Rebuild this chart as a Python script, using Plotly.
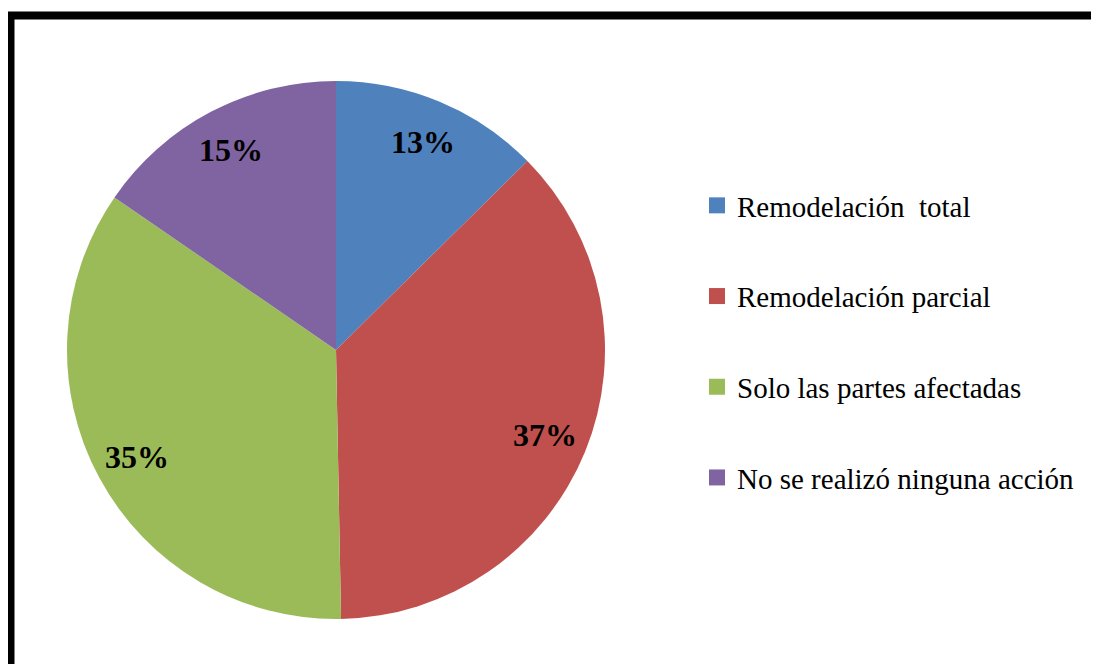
import math
import plotly.graph_objects as go

labels = ['Remodelación  total', 'Remodelación parcial',
          'Solo las partes afectadas', 'No se realizó ninguna acción']
values = [12.6, 37.1, 34.9, 15.4]
colors = ['#4F81BD', '#C0504D', '#9BBB59', '#8064A2']

# the page body keeps its 8px margin, so the figure is drawn 8px in
OFF = 8
W, H = 1099 - OFF, 664 - OFF
CX, CY, R = 336 - OFF, 350 - OFF, 269  # pie centre and radius in px


def px_x(x):
    return x / W


def px_y(y):
    return 1 - y / H


fig = go.Figure()

fig.add_trace(go.Pie(labels=labels,
                     values=values,
                     sort=False,
                     direction='clockwise',
                     rotation=0,
                     marker=dict(colors=colors, line=dict(width=0)),
                     textinfo='none',
                     hoverinfo='label+percent',
                     showlegend=False,
                     domain=dict(x=[px_x(CX - R), px_x(CX + R)],
                                 y=[px_y(CY + R), px_y(CY - R)])
                     ))

# legend entries as separate groups so they can be spaced out
for i, (name, color) in enumerate(zip(labels, colors)):
    fig.add_trace(go.Scatter(x=[None], y=[None],
                             mode='markers',
                             name=name,
                             legendgroup=str(i),
                             marker=dict(symbol='square', size=16, color=color),
                             hoverinfo='skip'))

# percentage labels placed near the outer edge along each slice's mid angle
total = sum(values)
start = 0.0
for v in values:
    mid = (start + v / 2) / total * 2 * math.pi
    start += v
    lx = CX + 0.84 * R * math.sin(mid)
    ly = CY - 0.84 * R * math.cos(mid)
    fig.add_annotation(x=px_x(lx), y=px_y(ly), xref='paper', yref='paper',
                       xanchor='center', yanchor='middle',
                       text='<b>{:.0f}%</b>'.format(v / total * 100),
                       showarrow=False,
                       font=dict(family='Liberation Serif', size=32, color='black'))

fig.add_shape(type='rect', xref='paper', yref='paper',
              x0=px_x(10.5 - OFF), y0=px_y(15.5 - OFF), x1=1.02, y1=-0.02,
              line=dict(color='black', width=8), fillcolor='rgba(0,0,0,0)')

fig.update_layout(width=W, height=H,
                  margin=dict(l=0, r=0, t=0, b=0),
                  paper_bgcolor='white',
                  plot_bgcolor='white',
                  xaxis_visible=False,
                  yaxis_visible=False,
                  showlegend=True,
                  legend=dict(x=px_x(697 - OFF), y=px_y(180 - OFF),
                              xanchor='left', yanchor='top',
                              traceorder='grouped',
                              tracegroupgap=50,
                              font=dict(family='Liberation Serif', size=29, color='black'),
                              bgcolor='rgba(0,0,0,0)')
                  )

fig.write_html('out.html')
